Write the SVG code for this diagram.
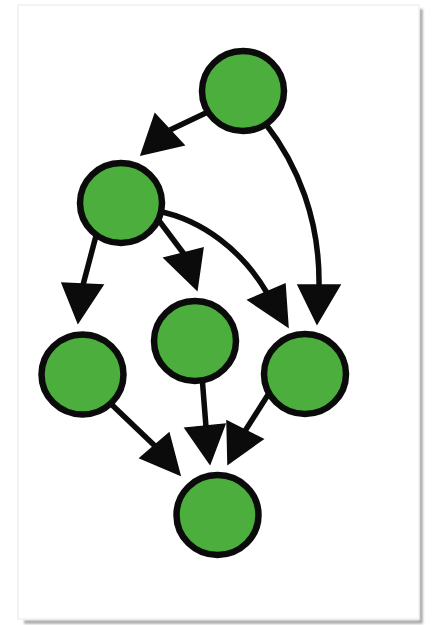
<svg xmlns="http://www.w3.org/2000/svg" width="436" height="625" viewBox="0 0 436 625">
  <defs>
    <filter id="soft" x="-10%" y="-10%" width="120%" height="120%">
      <feGaussianBlur stdDeviation="1.2"/>
    </filter>
  </defs>
  <style>
    .node { fill: #4cae3c; stroke: #0b0b0b; stroke-width: 6.5; }
    .edge { fill: none; stroke: #0b0b0b; stroke-width: 5.5; }
    .head { fill: #0b0b0b; stroke: #0b0b0b; stroke-width: 1.5; stroke-linejoin: miter; }
  </style>

  <!-- page background and card -->
  <rect x="0" y="0" width="436" height="625" fill="#ffffff"/>
  <g id="card">
    <path d="M421,9 V622 H24" fill="none" stroke="#a8a8a8" stroke-width="3.5" filter="url(#soft)"/>
    <rect x="18" y="5" width="401" height="614" fill="#ffffff" stroke="#f0f0f0" stroke-width="1.5"/>
  </g>

  <!-- connectors -->
  <g id="edges">
    <g id="e-a-b">
      <path class="edge" d="M212,110 L170,130"/>
      <polygon class="head" points="141,155 155,114 184,145"/>
    </g>
    <g id="e-b-c">
      <path class="edge" d="M97,232 L83,285"/>
      <polygon class="head" points="78,323 62,283 103,285"/>
    </g>
    <g id="e-b-d">
      <path class="edge" d="M157,218 L184,254"/>
      <polygon class="head" points="197,290 164,258 203,248"/>
    </g>
    <g id="e-b-e">
      <path class="edge" d="M158,211 C202,220 242,250 267,293"/>
      <polygon class="head" points="288,327 248,300 285,284"/>
    </g>
    <g id="e-a-e">
      <path class="edge" d="M265,123 C298,165 320,220 319,286"/>
      <polygon class="head" points="317,324 298,285 340,285"/>
    </g>
    <g id="e-c-f">
      <path class="edge" d="M110,403 L155,446"/>
      <polygon class="head" points="180,475 140,458 169,433"/>
    </g>
    <g id="e-d-f">
      <path class="edge" d="M202,376 L206,427"/>
      <polygon class="head" points="210,464 185,428 225,424"/>
    </g>
    <g id="e-e-f">
      <path class="edge" d="M271,390 L245,431"/>
      <polygon class="head" points="228,464 227,421 263,439"/>
    </g>
  </g>

  <!-- nodes -->
  <g id="node-a"><ellipse class="node" cx="243" cy="91" rx="41" ry="40"/></g>
  <g id="node-b"><ellipse class="node" cx="121" cy="203" rx="41" ry="40"/></g>
  <g id="node-c"><ellipse class="node" cx="82.5" cy="374.5" rx="41" ry="40"/></g>
  <g id="node-d"><ellipse class="node" cx="195" cy="341" rx="41" ry="40"/></g>
  <g id="node-e"><ellipse class="node" cx="305" cy="374" rx="41" ry="40"/></g>
  <g id="node-f"><ellipse class="node" cx="217.5" cy="515" rx="41" ry="40"/></g>
</svg>
